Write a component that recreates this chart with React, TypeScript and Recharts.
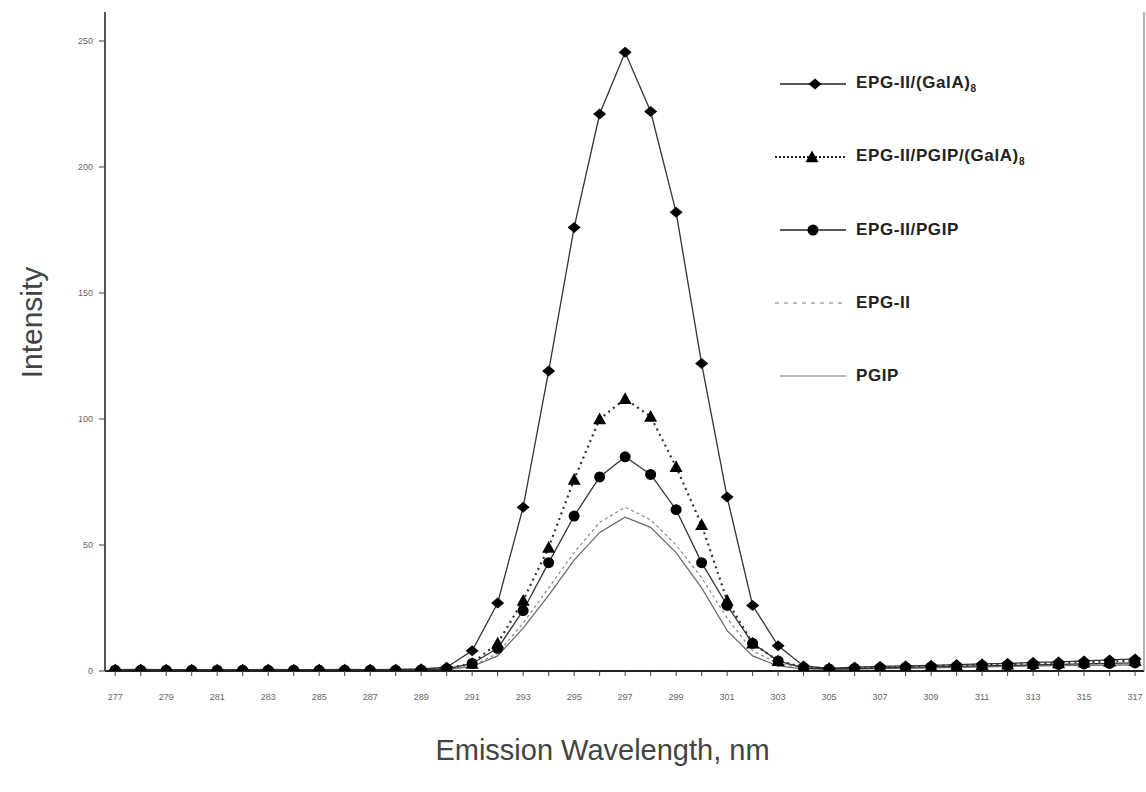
import React from 'react';
import { LineChart, Line, XAxis, YAxis, Label } from 'recharts';

const wavelengths = [277, 278, 279, 280, 281, 282, 283, 284, 285, 286, 287, 288, 289, 290, 291, 292, 293, 294, 295, 296, 297, 298, 299, 300, 301, 302, 303, 304, 305, 306, 307, 308, 309, 310, 311, 312, 313, 314, 315, 316, 317];
const tickLabels = [277, 279, 281, 283, 285, 287, 289, 291, 293, 295, 297, 299, 301, 303, 305, 307, 309, 311, 313, 315, 317];
const yTicks = [0, 50, 100, 150, 200, 250];

const epgGala = [0.5, 0.6, 0.5, 0.5, 0.4, 0.5, 0.6, 0.5, 0.5, 0.6, 0.5, 0.6, 0.8, 1.5, 8, 27, 65, 119, 176, 221, 245.5, 222, 182, 122, 69, 26, 10, 2, 1, 1.5, 1.8, 2, 2.2, 2.5, 2.8, 3, 3.4, 3.6, 4, 4.4, 4.8];
const epgPgipGala = [0.4, 0.4, 0.4, 0.4, 0.4, 0.4, 0.4, 0.4, 0.4, 0.4, 0.4, 0.4, 0.5, 1, 3, 11, 28, 49, 76, 100, 108, 101, 81, 58, 28, 11, 4, 1.5, 1, 1.2, 1.5, 1.7, 2, 2.2, 2.5, 2.7, 3, 3.2, 3.5, 3.8, 4];
const epgPgip = [0.3, 0.3, 0.3, 0.3, 0.3, 0.3, 0.3, 0.3, 0.3, 0.3, 0.3, 0.3, 0.4, 0.8, 3, 9, 24, 43, 61.5, 77, 85, 78, 64, 43, 26, 11, 4, 1.2, 0.8, 1, 1.2, 1.4, 1.6, 1.8, 2, 2.2, 2.4, 2.6, 2.8, 3, 3.2];
const epg = [0.2, 0.2, 0.2, 0.2, 0.2, 0.2, 0.2, 0.2, 0.2, 0.2, 0.2, 0.2, 0.3, 0.5, 2, 7, 19, 33, 47, 59, 65, 60, 50, 37, 21, 8, 3, 1, 0.8, 0.9, 1, 1.1, 1.3, 1.5, 1.7, 1.9, 2.1, 2.2, 2.3, 2.4, 2.5];
const pgip = [0.2, 0.2, 0.2, 0.2, 0.2, 0.2, 0.2, 0.2, 0.2, 0.2, 0.2, 0.2, 0.3, 0.5, 1.8, 6, 17, 30, 44, 55, 61, 57, 47, 33, 16, 6, 2, 0.8, 0.7, 0.8, 0.9, 1, 1.2, 1.4, 1.6, 1.8, 2, 2.1, 2.2, 2.3, 2.4];

const data = wavelengths.map((w, i) => ({
  w,
  a: epgGala[i],
  b: epgPgipGala[i],
  c: epgPgip[i],
  d: epg[i],
  e: pgip[i],
}));

const FONT = "'Liberation Sans Narrow', 'Liberation Sans', Arial, sans-serif";

const Diamond = (props: any) => {
  const { cx, cy } = props;
  if (cx == null || cy == null) return null;
  const sx = 6.5;
  const sy = 5.5;
  return <polygon points={`${cx},${cy - sy} ${cx + sx},${cy} ${cx},${cy + sy} ${cx - sx},${cy}`} fill="#000" />;
};
const Triangle = (props: any) => {
  const { cx, cy } = props;
  if (cx == null || cy == null) return null;
  const s = 6.5;
  return <polygon points={`${cx},${cy - s} ${cx + s},${cy + s * 0.8} ${cx - s},${cy + s * 0.8}`} fill="#000" />;
};
const Circle = (props: any) => {
  const { cx, cy } = props;
  if (cx == null || cy == null) return null;
  return <circle cx={cx} cy={cy} r={5.5} fill="#000" />;
};

const XTick = (props: any) => {
  const { x, y, payload } = props;
  if (!tickLabels.includes(payload.value)) return null;
  return (
    <text x={x} y={y} dy={9} textAnchor="middle" fontSize={9} fill="#666" fontFamily={FONT}>
      {payload.value}
    </text>
  );
};

const legendItems = [
  { key: 'a', label: 'EPG-II/(GalA)', sub: '8', dash: undefined, width: 1.3, color: '#222', marker: 'diamond', x1: 6, x2: 72, mx: 41 },
  { key: 'b', label: 'EPG-II/PGIP/(GalA)', sub: '8', dash: '2 2', width: 2, color: '#222', marker: 'triangle', x1: 1, x2: 72, mx: 38 },
  { key: 'c', label: 'EPG-II/PGIP', sub: '', dash: undefined, width: 1.3, color: '#222', marker: 'circle', x1: 6, x2: 72, mx: 39 },
  { key: 'd', label: 'EPG-II', sub: '', dash: '4 5', width: 1, color: '#777', marker: 'none', x1: 1, x2: 72, mx: 0 },
  { key: 'e', label: 'PGIP', sub: '', dash: undefined, width: 1.2, color: '#777', marker: 'none', x1: 6, x2: 72, mx: 0 },
];
const legendTops = [0, 73, 146, 219, 292];

const LegendBox = () => (
  <div style={{ position: 'absolute', left: 774, top: 74, width: 320, height: 340, fontFamily: FONT }}>
    {legendItems.map((it, i) => (
      <div key={it.key} style={{ position: 'absolute', left: 0, top: legendTops[i], display: 'flex', alignItems: 'center', height: 20 }}>
        <svg width={74} height={20} style={{ display: 'block' }}>
          <line x1={it.x1} x2={it.x2} y1={10} y2={10} stroke={it.color} strokeWidth={it.width} strokeDasharray={it.dash} />
          {it.marker === 'diamond' && <Diamond cx={it.mx} cy={10} />}
          {it.marker === 'triangle' && <Triangle cx={it.mx} cy={10} />}
          {it.marker === 'circle' && <Circle cx={it.mx} cy={10} />}
        </svg>
        <span style={{ marginLeft: 8, fontSize: 17, fontWeight: 'bold', color: '#222', whiteSpace: 'nowrap', letterSpacing: 0.6 }}>
          {it.label}
          {it.sub && <sub style={{ fontSize: 10 }}>{it.sub}</sub>}
        </span>
      </div>
    ))}
  </div>
);

const YLabel = (props: any) => {
  const { viewBox } = props;
  const x = 31;
  const y = viewBox.y + viewBox.height / 2 - 19;
  return (
    <text x={x} y={y} transform={`rotate(-90, ${x}, ${y})`} textAnchor="middle" dominantBaseline="central" fontSize={30} fill="#444" fontFamily={FONT}>
      Intensity
    </text>
  );
};

const XLabel = (props: any) => {
  const { viewBox } = props;
  const x = viewBox.x + viewBox.width / 2 - 22;
  return (
    <text x={x} y={760} textAnchor="middle" fontSize={29} fill="#444" fontFamily={FONT}>
      Emission Wavelength, nm
    </text>
  );
};

export default function App() {
  const domainX: [number, number] = [276.6, 317.35];
  const domainY: [number, number] = [0, 261.5];
  return (
    <div style={{ position: 'absolute', left: 0, top: 0, width: 1146, height: 792, background: '#fff' }}>
      <LineChart width={1146} height={792} data={data} margin={{ top: 12, right: 0, bottom: 0, left: 0 }}>
        <XAxis
          xAxisId="x"
          dataKey="w"
          type="number"
          domain={domainX}
          ticks={wavelengths}
          interval={0}
          height={121}
          tick={<XTick />}
          tickSize={5}
          tickMargin={15}
          tickLine={{ stroke: '#444' }}
          axisLine={{ stroke: '#222', strokeWidth: 2 }}
          allowDataOverflow
        >
          <Label content={<XLabel />} />
        </XAxis>
        <XAxis xAxisId="top" orientation="top" type="number" domain={domainX} height={0} tick={false} tickLine={false} axisLine={{ stroke: '#444', strokeWidth: 1.2 }} />
        <YAxis
          yAxisId="y"
          type="number"
          domain={domainY}
          ticks={yTicks}
          width={105}
          tickSize={6}
          tickMargin={6}
          tick={{ fontSize: 9, fill: '#666', fontFamily: FONT }}
          tickLine={{ stroke: '#444' }}
          axisLine={{ stroke: '#555', strokeWidth: 2 }}
          allowDataOverflow
        >
          <Label content={<YLabel />} />
        </YAxis>
        <YAxis yAxisId="right" orientation="right" type="number" domain={domainY} width={2} tick={false} tickLine={false} axisLine={{ stroke: '#666', strokeWidth: 1 }} />
        <Line xAxisId="x" yAxisId="y" dataKey="e" stroke="#666" strokeWidth={1.2} dot={false} isAnimationActive={false} />
        <Line xAxisId="x" yAxisId="y" dataKey="d" stroke="#888" strokeWidth={1.2} strokeDasharray="3 3" dot={false} isAnimationActive={false} />
        <Line xAxisId="x" yAxisId="y" dataKey="c" stroke="#333" strokeWidth={1.3} dot={<Circle />} isAnimationActive={false} />
        <Line xAxisId="x" yAxisId="y" dataKey="b" stroke="#333" strokeWidth={2.2} strokeDasharray="2 4" dot={<Triangle />} isAnimationActive={false} />
        <Line xAxisId="x" yAxisId="y" dataKey="a" stroke="#333" strokeWidth={1.3} dot={<Diamond />} isAnimationActive={false} />
      </LineChart>
      <LegendBox />
    </div>
  );
}
